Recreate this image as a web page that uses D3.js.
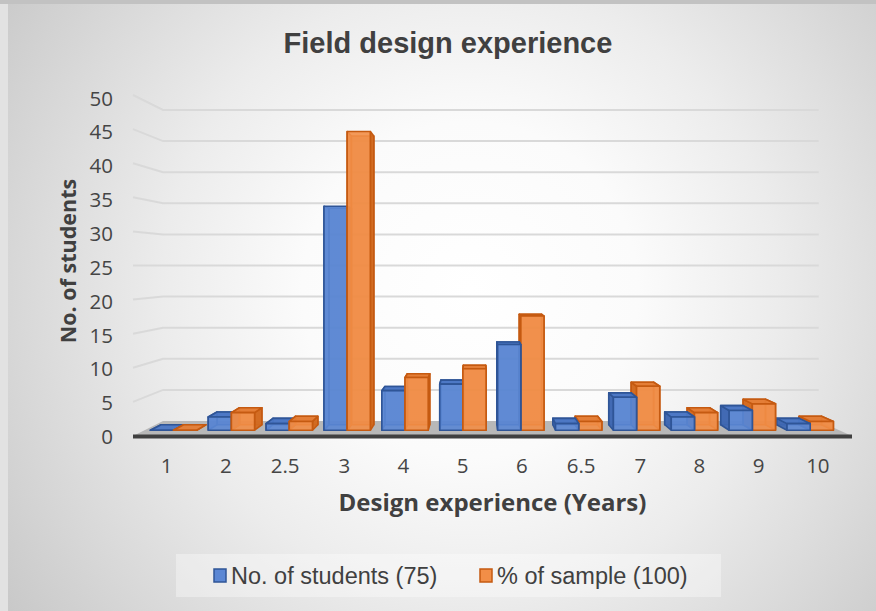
<!DOCTYPE html>
<html>
<head>
<meta charset="utf-8">
<script src="https://cdn.jsdelivr.net/npm/d3@7"></script>
<style>
  html, body { margin: 0; padding: 0; background: #e4e4e4; }
  svg { display: block; }
</style>
</head>
<body>
<svg id="chart" width="876" height="611"></svg>
<script>
// ---- data ----
const categories = ["1", "2", "2.5", "3", "4", "5", "6", "6.5", "7", "8", "9", "10"];
const seriesNames = ["No. of students (75)", "% of sample (100)"];
const students = [0, 2, 1, 34, 6, 7, 13, 1, 5, 2, 3, 1];
const percentOfSample = [0, 2.67, 1.33, 45.33, 8, 9.33, 17.33, 1.33, 6.67, 2.67, 4, 1.33];
const yTickValues = [0, 5, 10, 15, 20, 25, 30, 35, 40, 45, 50];
const titleText = "Field design experience";
const xTitleText = "Design experience (Years)";
const yTitleText = "No. of students";

const seriesValues = [students, percentOfSample];
const seriesStyle = [
  { front: "#5b87d4", side: "#3e67b2", top: "#4a76c4", edge: "#2f5597" },
  { front: "#f28e47", side: "#d2691f", top: "#e47c34", edge: "#c55a11" }
];

const svg = d3.select("#chart");
const W = 876, H = 611;

// ---- background ----
const defs = svg.append("defs");
const bg = defs.append("radialGradient").attr("id", "bg")
  .attr("gradientUnits", "userSpaceOnUse")
  .attr("cx", 470).attr("cy", 290).attr("r", 560);
bg.append("stop").attr("offset", 0).attr("stop-color", "#ffffff");
bg.append("stop").attr("offset", 0.3).attr("stop-color", "#fbfbfb");
bg.append("stop").attr("offset", 0.55).attr("stop-color", "#ececec");
bg.append("stop").attr("offset", 1).attr("stop-color", "#c9c9c9");

svg.append("rect").attr("width", W).attr("height", H).attr("fill", "#e2e2e2");
svg.append("rect").attr("x", 8).attr("y", 4).attr("width", W - 8).attr("height", H - 4).attr("fill", "url(#bg)");
svg.append("rect").attr("x", 0).attr("y", 0).attr("width", W).attr("height", 4).attr("fill", "#c2c2c2");

// ---- perspective projection ----
// world coordinates are the front-plane pixel positions; s is the depth scale
const eye = { x: 474, y: 265.5 };
const sFront = 1, sBack = 0.912;          // floor / wall depth
const barFront = 0.966, barBack = 0.934;  // bar depth
const proj = (X, Y, s) => [eye.x + (X - eye.x) * s, eye.y + (Y - eye.y) * s];

const x = d3.scaleBand().domain(categories).range([133, 852]).paddingInner(0).paddingOuter(0);
const y = d3.scaleLinear().domain([0, 50]).range([436, 95]);
const barW = 24;

const line = d3.line();

// ---- walls: gridlines ----
const grid = svg.append("g").attr("fill", "none").attr("stroke", "#d9d9d9").attr("stroke-width", 2);
yTickValues.filter(v => v > 0).forEach(v => {
  const a = proj(x.range()[0], y(v), sFront);
  const b = proj(x.range()[0], y(v), sBack);
  const c = proj(x.range()[1], y(v), sBack);
  grid.append("path").attr("d", line([a, b, c]));
});

// ---- floor ----
const x0 = x.range()[0], x1 = x.range()[1];
svg.append("path")
  .attr("d", line([proj(x0, y(0), sBack), proj(x1, y(0), sBack), proj(x1, y(0), sFront), proj(x0, y(0), sFront)]) + "Z")
  .attr("fill", "#b8b8b8");
svg.append("path")
  .attr("d", line([proj(x0, y(0) - 1.5, sFront), proj(x1, y(0) - 1.5, sFront), proj(x1, y(0) + 2.5, sFront), proj(x0, y(0) + 2.5, sFront)]) + "Z")
  .attr("fill", "#404040");

// ---- bars ----
const bars = [];
categories.forEach((cat, i) => {
  const cx = x(cat) + x.bandwidth() / 2;
  const inner = d3.scaleBand().domain(seriesNames).range([cx - barW, cx + barW]);
  seriesNames.forEach((name, k) => {
    const xl = inner(name), xr = xl + inner.bandwidth();
    bars.push({ xl, xr, v: seriesValues[k][i], style: seriesStyle[k] });
  });
});
// paint bars farther from the eye first
bars.sort((a, b) => Math.abs((b.xl + b.xr) / 2 - eye.x) - Math.abs((a.xl + a.xr) / 2 - eye.x));

const barLayer = svg.append("g").attr("stroke-linejoin", "round");
bars.forEach(b => {
  const yb = y(0), yt = y(b.v);
  const P = (X, Y, s) => proj(X, Y, s);
  const fTL = P(b.xl, yt, barFront), fTR = P(b.xr, yt, barFront), fBL = P(b.xl, yb, barFront), fBR = P(b.xr, yb, barFront);
  const kTL = P(b.xl, yt, barBack), kTR = P(b.xr, yt, barBack), kBL = P(b.xl, yb, barBack), kBR = P(b.xr, yb, barBack);
  const centre = (b.xl + b.xr) / 2;
  const sideVisibleRight = centre < eye.x;
  const st = b.style;
  const g = barLayer.append("g");
  const face = (pts, fill, op) => g.append("path").attr("d", line(pts) + "Z")
    .attr("fill", fill).attr("fill-opacity", op)
    .attr("stroke", st.edge).attr("stroke-width", 1.6);
  // hidden faces first, lightly drawn so the edges read through
  face([kTL, kTR, kBR, kBL], st.side, 0.6);
  if (sideVisibleRight) face([fTL, kTL, kBL, fBL], st.side, 0.6);
  else face([fTR, kTR, kBR, fBR], st.side, 0.6);
  // visible faces
  if (sideVisibleRight) face([fTR, kTR, kBR, fBR], st.side, 0.95);
  else face([fTL, kTL, kBL, fBL], st.side, 0.95);
  if (yt > eye.y) face([fTL, fTR, kTR, kTL], st.top, 0.95);
  face([fTL, fTR, fBR, fBL], st.front, 0.9);
});

// ---- axes ----
const tickFont = "'Open Sans', 'DejaVu Sans', sans-serif";
const yLabel = d3.scaleLinear().domain([0, 50]).range([437, 98.5]);
const yAxis = svg.append("g").attr("transform", "translate(113,0)")
  .call(d3.axisLeft(yLabel).tickValues(yTickValues).tickSize(0).tickPadding(0));
yAxis.select(".domain").remove();
yAxis.selectAll("text").attr("font-family", tickFont).attr("font-size", 20.5).attr("fill", "#454545");

const sLabel = 0.988;
const xLabel = d3.scaleBand().domain(categories)
  .range([proj(x0, 0, sLabel)[0], proj(x1, 0, sLabel)[0]]);
const xAxis = svg.append("g").attr("transform", "translate(0,458.5)")
  .call(d3.axisBottom(xLabel).tickSize(0).tickPadding(0));
xAxis.select(".domain").remove();
xAxis.selectAll("text").attr("font-family", tickFont).attr("font-size", 20.5).attr("fill", "#454545");

// ---- titles ----
svg.append("text").attr("x", 448).attr("y", 53).attr("text-anchor", "middle")
  .attr("font-family", "'Liberation Sans', Arial, sans-serif").attr("font-weight", "bold")
  .attr("font-size", 29).attr("fill", "#404040").text(titleText);

svg.append("text").attr("x", 492.5).attr("y", 511).attr("text-anchor", "middle")
  .attr("font-family", tickFont).attr("font-weight", "bold")
  .attr("font-size", 24).attr("fill", "#404040").text(xTitleText);

svg.append("text").attr("transform", "translate(76,261) rotate(-90)").attr("text-anchor", "middle")
  .attr("font-family", tickFont).attr("font-weight", "bold")
  .attr("font-size", 21.5).attr("fill", "#404040").text(yTitleText);

// ---- legend ----
const legend = svg.append("g");
legend.append("rect").attr("x", 176).attr("y", 554).attr("width", 545).attr("height", 43)
  .attr("fill", "#ffffff").attr("fill-opacity", 0.35);
const legendX = [214, 480];
seriesNames.forEach((name, k) => {
  legend.append("rect").attr("x", legendX[k]).attr("y", 569).attr("width", 12).attr("height", 13)
    .attr("fill", seriesStyle[k].front).attr("stroke", seriesStyle[k].edge).attr("stroke-width", 1.5);
  legend.append("text").attr("x", legendX[k] + 17).attr("y", 584)
    .attr("font-family", "'Liberation Sans', Arial, sans-serif").attr("font-size", 23.5)
    .attr("fill", "#404040").text(name);
});
</script>
</body>
</html>
